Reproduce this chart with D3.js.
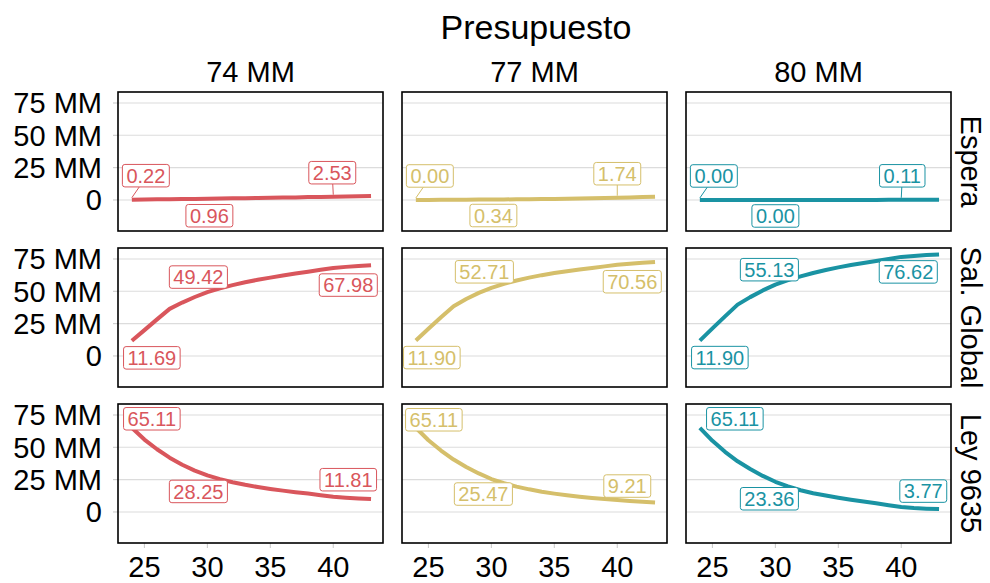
<!DOCTYPE html>
<html>
<head>
<meta charset="utf-8">
<script src="https://cdn.jsdelivr.net/npm/d3@7"></script>
<style>
  body { margin: 0; background: #fff; }
  svg { display: block; font-family: "Liberation Sans", Arial, sans-serif; }
</style>
</head>
<body>
<div id="chart"></div>
<script>
// facetas
let presupuestos = ["74 MM", "77 MM", "80 MM"];
let escenarios = ["Espera", "Sal. Global", "Ley 9635"];
let colores = ["#D9565C", "#D5BF6B", "#1A93A3"];

// edades (eje x) y valores, en MM
let edades = [24, 25, 26, 27, 28, 29, 30, 31, 32, 33, 34, 35, 36, 37, 38, 39, 40, 41, 42, 43];
let edadesEtiqueta = [24, 30, 40];

let espera74 = [0.22, 0.34, 0.46, 0.58, 0.71, 0.84, 0.96, 1.1, 1.25, 1.4, 1.55, 1.7, 1.85, 2.0, 2.2, 2.35, 2.53, 2.7, 2.9, 3.1];
let espera77 = [0.00, 0.04, 0.09, 0.15, 0.21, 0.27, 0.34, 0.42, 0.5, 0.6, 0.7, 0.82, 0.95, 1.1, 1.3, 1.5, 1.74, 1.95, 2.2, 2.4];
let espera80 = [0.00, 0.00, 0.00, 0.00, 0.00, 0.00, 0.00, 0.00, 0.00, 0.00, 0.01, 0.01, 0.02, 0.03, 0.05, 0.08, 0.11, 0.14, 0.17, 0.2];

let salGlobal74 = [11.69, 20.0, 28.3, 36.4, 41.3, 45.6, 49.42, 52.3, 54.8, 57.0, 58.9, 60.6, 62.2, 63.8, 65.2, 66.6, 67.98, 68.9, 69.6, 70.2];
let salGlobal77 = [11.90, 21.0, 30.0, 38.5, 44.0, 48.8, 52.71, 55.8, 58.4, 60.6, 62.5, 64.1, 65.5, 66.8, 68.0, 69.3, 70.56, 71.4, 72.1, 72.7];
let salGlobal80 = [11.90, 21.3, 30.6, 39.7, 45.5, 50.7, 55.13, 58.6, 61.6, 64.2, 66.5, 68.5, 70.3, 71.9, 73.4, 75.0, 76.62, 77.4, 78.0, 78.5];

let ley74 = [65.11, 56.0, 48.5, 42.0, 36.5, 32.0, 28.25, 25.4, 23.0, 21.0, 19.3, 17.8, 16.5, 15.3, 14.2, 13.0, 11.81, 11.0, 10.4, 10.0];
let ley77 = [65.11, 55.5, 47.5, 40.5, 34.8, 29.8, 25.47, 22.2, 19.6, 17.5, 15.7, 14.2, 12.9, 11.8, 10.8, 10.0, 9.21, 8.5, 7.9, 7.4];
let ley80 = [65.11, 55.0, 46.5, 39.2, 33.2, 27.9, 23.36, 19.8, 16.8, 14.5, 12.7, 11.0, 9.5, 8.1, 6.7, 5.2, 3.77, 3.0, 2.5, 2.2];

let series = [
    [espera74, espera77, espera80],
    [salGlobal74, salGlobal77, salGlobal80],
    [ley74, ley77, ley80]
];

let ticksY = [0, 25, 50, 75];
let ticksYTexto = ["0", "25 MM", "50 MM", "75 MM"];
let ticksX = [25, 30, 35, 40];

// desplazamiento de cada etiqueta (px) respecto de su punto, como lo hace ggrepel
let nudges = [
    [[[14, -24], [2, 17], [-1, -24]], [[14, -24], [2, 16], [0, -24]], [[14, -24], [0, 16], [1, -24]]],
    [[[20, 17], [-9, -15], [15, 17]], [[16, 17], [-7, -16], [15, 17]], [[20, 17], [-6, -15], [7, 15]]],
    [[[20, -9], [-9, 16], [15, -17]], [[18, -8], [-8, 15], [10, -14]], [[35, -9], [-6, 17], [22, -16]]]
];

var width = 990, height = 583
var panel = {left: 118, top: 92, w: 265, h: 139, dx: 284, dy: 156}

var svg = d3.select("#chart").append("svg")
    .attr("width", width)
    .attr("height", height)

function texto(g, x, y, s, size, anchor, rot) {
    return g.append("text")
        .attr("transform", "translate(" + x + "," + y + ")" + (rot ? " rotate(" + rot + ")" : ""))
        .attr("text-anchor", anchor || "middle")
        .style("font-size", size + "px")
        .text(s)
}

var x = d3.scaleLinear().domain([22.9, 43.95]).range([0, panel.w])
var y = d3.scaleLinear().domain([-24, 83.5]).range([panel.h, 0])

texto(svg, 536, 39, "Presupuesto", 34)

for (let c = 0; c < 3; c++) {
    texto(svg, panel.left + c * panel.dx + panel.w / 2, 82, presupuestos[c], 29)
}
for (let r = 0; r < 3; r++) {
    texto(svg, 961, panel.top + r * panel.dy + panel.h / 2, escenarios[r], 29, "middle", 90)
}

for (let r = 0; r < 3; r++) {
    for (let c = 0; c < 3; c++) {
        let g = svg.append("g")
            .attr("transform", "translate(" + (panel.left + c * panel.dx) + "," + (panel.top + r * panel.dy) + ")")
        let color = colores[c]
        let vals = series[r][c]
        let datos = edades.map((e, i) => ({x: e, y: vals[i]}))

        // rejilla
        g.selectAll(".grid").data(ticksY).enter().append("line")
            .attr("x1", 0).attr("x2", panel.w)
            .attr("y1", d => y(d)).attr("y2", d => y(d))
            .style("stroke", "#dcdcdc").style("stroke-width", 1.1)

        // marcas de eje
        if (c == 0) {
            g.selectAll(".ty").data(ticksY).enter().append("line")
                .attr("x1", -5).attr("x2", 0)
                .attr("y1", d => y(d)).attr("y2", d => y(d))
                .style("stroke", "#cccccc").style("stroke-width", 1.1)
            ticksY.forEach((t, i) => {
                texto(g, -16, y(t) + 10.5, ticksYTexto[i], 29, "end")
            })
        }
        if (r == 2) {
            g.selectAll(".tx").data(ticksX).enter().append("line")
                .attr("x1", d => x(d)).attr("x2", d => x(d))
                .attr("y1", panel.h).attr("y2", panel.h + 5)
                .style("stroke", "#cccccc").style("stroke-width", 1.1)
            ticksX.forEach(t => {
                texto(g, x(t), panel.h + 34, String(t), 29)
            })
        }

        // linea
        g.append("path").datum(datos)
            .attr("d", d3.line().x(d => x(d.x)).y(d => y(d.y)))
            .style("fill", "none")
            .style("stroke", color)
            .style("stroke-width", 4)
            .style("stroke-linejoin", "round")

        // etiquetas
        edadesEtiqueta.forEach((e, k) => {
            let i = edades.indexOf(e)
            let px = x(e), py = y(vals[i])
            let cx = px + nudges[r][c][k][0], cy = py + nudges[r][c][k][1]
            let lg = g.append("g")
            let rect = lg.append("rect")
            let t = texto(lg, cx, cy + 7.2, vals[i].toFixed(2), 20)
                .style("fill", color)
            let bw = t.node().getBBox().width + 8
            let bh = 22.5
            rect.attr("x", cx - bw / 2).attr("y", cy - bh / 2)
                .attr("width", bw).attr("height", bh)
                .attr("rx", 2.5)
                .style("fill", "white").style("stroke", color).style("stroke-width", 1)
            // segmento hasta el punto si la etiqueta queda lejos
            let ddx = px - cx, ddy = py - cy
            let tt = Math.min(Math.abs((bw / 2) / (ddx || 1e-9)), Math.abs((bh / 2) / (ddy || 1e-9)))
            let ex = cx + ddx * tt, ey = cy + ddy * tt
            let largo = Math.hypot(px - ex, py - ey)
            if (tt < 1 && largo > 11) {
                lg.insert("line", "rect")
                    .attr("x1", ex).attr("y1", ey).attr("x2", px).attr("y2", py - 2)
                    .style("stroke", color).style("stroke-width", 1)
            }
        })

        // borde del panel
        g.append("rect")
            .attr("width", panel.w).attr("height", panel.h)
            .style("fill", "none").style("stroke", "black").style("stroke-width", 1.6)
    }
}
</script>
</body>
</html>
